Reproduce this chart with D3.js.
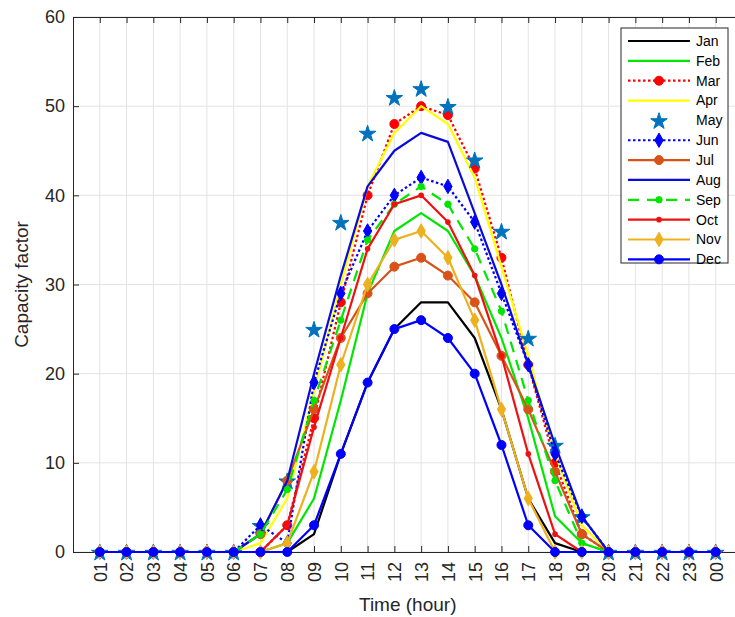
<!DOCTYPE html>
<html>
<head>
<meta charset="utf-8">
<script src="https://cdn.jsdelivr.net/npm/d3@7"></script>
<style>
  html, body { margin: 0; padding: 0; background: #fff; }
  svg { display: block; font-family: "Liberation Sans", Arial, sans-serif; }
</style>
</head>
<body>
<svg id="chart" width="735" height="617"></svg>
<script>
// Hour labels along the x axis
const hours = ["01","02","03","04","05","06","07","08","09","10","11","12",
               "13","14","15","16","17","18","19","20","21","22","23","00"];

const months = ["Jan","Feb","Mar","Apr","May","Jun","Jul","Aug","Sep","Oct","Nov","Dec"];

const yTicks = [0, 10, 20, 30, 40, 50, 60];

// Hourly capacity factor for each month (01 .. 00)
const jan = [0,0,0,0,0,0,0,0,2,11,19,25,28,28,24,16,6,1,0,0,0,0,0,0];
const feb = [0,0,0,0,0,0,0,1,6,17,29,36,38,36,31,24,15,4,1,0,0,0,0,0];
const mar = [0,0,0,0,0,0,0,3,15,28,40,48,50,49,43,33,21,10,2,0,0,0,0,0];
const apr = [0,0,0,0,0,0,1,6,18,30,41,47,50,48,42,32,22,11,3,0,0,0,0,0];
const may = [0,0,0,0,0,0,3,8,25,37,47,51,52,50,44,36,24,12,4,0,0,0,0,0];
const jun = [0,0,0,0,0,0,3,1,19,29,36,40,42,41,37,29,21,11,4,0,0,0,0,0];
const jul = [0,0,0,0,0,0,2,8,16,24,29,32,33,31,28,22,16,9,2,0,0,0,0,0];
const aug = [0,0,0,0,0,0,2,8,20,31,41,45,47,46,38,30,21,12,4,0,0,0,0,0];
const sep = [0,0,0,0,0,0,2,7,17,26,35,39,41,39,34,27,17,8,1,0,0,0,0,0];
const oct = [0,0,0,0,0,0,0,3,14,24,34,39,40,37,31,22,11,2,0,0,0,0,0,0];
const nov = [0,0,0,0,0,0,0,1,9,21,30,35,36,33,26,16,6,0,0,0,0,0,0,0];
const dec = [0,0,0,0,0,0,0,0,3,11,19,25,26,24,20,12,3,0,0,0,0,0,0,0];

// Line / marker styling per month
const styles = [
  { name: "Jan", values: jan, color: "#000000", line: true,  dash: null,      marker: null,      ms: 0 },
  { name: "Feb", values: feb, color: "#00e600", line: true,  dash: null,      marker: null,      ms: 0 },
  { name: "Mar", values: mar, color: "#ff0000", line: true,  dash: "2.5,2.5", marker: "circle",  ms: 4.5 },
  { name: "Apr", values: apr, color: "#ffff00", line: true,  dash: null,      marker: null,      ms: 0 },
  { name: "May", values: may, color: "#0072bd", line: false, dash: null,      marker: "star",    ms: 85 },
  { name: "Jun", values: jun, color: "#0000ff", line: true,  dash: "2.5,2.5", marker: "diamond", ms: 60 },
  { name: "Jul", values: jul, color: "#d95319", line: true,  dash: null,      marker: "circle",  ms: 4.5 },
  { name: "Aug", values: aug, color: "#0a0adc", line: true,  dash: null,      marker: null,      ms: 0 },
  { name: "Sep", values: sep, color: "#00e600", line: true,  dash: "11,8",    marker: "circle",  ms: 3.2 },
  { name: "Oct", values: oct, color: "#ee1111", line: true,  dash: null,      marker: "dot",     ms: 2.8 },
  { name: "Nov", values: nov, color: "#edb120", line: true,  dash: null,      marker: "diamond", ms: 60 },
  { name: "Dec", values: dec, color: "#0000ff", line: true,  dash: null,      marker: "circle",  ms: 4.5 }
];

const svg = d3.select("#chart");
const margin = { left: 73, top: 17, bottom: 552 };
const step = 26.78;

const x = d3.scaleLinear().domain([0, 25]).range([margin.left, margin.left + 25 * step]);
const y = d3.scaleLinear().domain([0, 60]).range([margin.bottom, margin.top]);
const xRight = x(25);

// Grid
const grid = svg.append("g");
grid.selectAll("line.vg").data(hours).join("line")
  .attr("x1", (d, i) => x(i + 1)).attr("x2", (d, i) => x(i + 1))
  .attr("y1", y(0)).attr("y2", y(60))
  .attr("stroke", "#e3e3e3").attr("stroke-width", 1);
grid.selectAll("line.hg").data(yTicks).join("line")
  .attr("x1", margin.left).attr("x2", xRight)
  .attr("y1", d => y(d)).attr("y2", d => y(d))
  .attr("stroke", "#e3e3e3").attr("stroke-width", 1);

// Axes (ticks pointing inward, box on)
const axisColor = "#262626";
const xAxis = svg.append("g").attr("transform", `translate(0,${y(0)})`)
  .call(d3.axisBottom(x).tickValues(d3.range(1, 25)).tickFormat(i => hours[i - 1])
        .tickSizeInner(-6).tickSizeOuter(0).tickPadding(10));
xAxis.select(".domain").attr("stroke", axisColor);
xAxis.selectAll(".tick line").attr("stroke", axisColor);
xAxis.selectAll(".tick text")
  .attr("transform", "rotate(-90)")
  .attr("x", -10).attr("y", 0).attr("dy", "0.35em")
  .attr("text-anchor", "end")
  .attr("font-size", 18).attr("fill", axisColor)
  .attr("font-family", "Liberation Sans, Arial, sans-serif");

const xTop = svg.append("g").attr("transform", `translate(0,${y(60)})`)
  .call(d3.axisTop(x).tickValues(d3.range(1, 25)).tickFormat("").tickSizeInner(-6).tickSizeOuter(0));
xTop.select(".domain").attr("stroke", axisColor);
xTop.selectAll(".tick line").attr("stroke", axisColor);

const yAxis = svg.append("g").attr("transform", `translate(${margin.left},0)`)
  .call(d3.axisLeft(y).tickValues(yTicks).tickSizeInner(-6).tickSizeOuter(0).tickPadding(8));
yAxis.select(".domain").attr("stroke", axisColor);
yAxis.selectAll(".tick line").attr("stroke", axisColor);
yAxis.selectAll(".tick text").attr("font-size", 18).attr("fill", axisColor)
  .attr("font-family", "Liberation Sans, Arial, sans-serif");

// Axis titles
svg.append("text").attr("x", x(12.5)).attr("y", 611)
  .attr("text-anchor", "middle").attr("font-size", 19).attr("fill", axisColor)
  .text("Time (hour)");
svg.append("text")
  .attr("transform", `translate(28,${(y(0) + y(60)) / 2}) rotate(-90)`)
  .attr("text-anchor", "middle").attr("font-size", 19).attr("fill", axisColor)
  .text("Capacity factor");

// Marker drawing helper
function drawMarker(g, type, color, size, cx, cy) {
  if (type === "circle") {
    g.append("circle").attr("cx", cx).attr("cy", cy).attr("r", size).attr("fill", color).attr("stroke", color);
  } else if (type === "dot") {
    g.append("circle").attr("cx", cx).attr("cy", cy).attr("r", size).attr("fill", color);
  } else if (type === "diamond") {
    g.append("path").attr("d", d3.symbol(d3.symbolDiamond, size)())
      .attr("transform", `translate(${cx},${cy})`).attr("fill", color).attr("stroke", color);
  } else if (type === "star") {
    g.append("path").attr("d", d3.symbol(d3.symbolStar, size)())
      .attr("transform", `translate(${cx},${cy + 1})`).attr("fill", color).attr("stroke", color);
  }
}

// Series
const plot = svg.append("g");
const lineGen = d3.line().x((d, i) => x(i + 1)).y(d => y(d));
styles.forEach(s => {
  const g = plot.append("g");
  if (s.line) {
    g.append("path").datum(s.values).attr("d", lineGen)
      .attr("fill", "none").attr("stroke", s.color).attr("stroke-width", 2.2)
      .attr("stroke-dasharray", s.dash).attr("stroke-linejoin", "round");
  }
  if (s.marker) {
    s.values.forEach((v, i) => drawMarker(g, s.marker, s.color, s.ms, x(i + 1), y(v)));
  }
});

// Legend
const lg = svg.append("g");
const lx = 621, ly = 28, lw = 107, lh = 235;
lg.append("rect").attr("x", lx).attr("y", ly).attr("width", lw).attr("height", lh)
  .attr("fill", "#fff").attr("stroke", axisColor).attr("stroke-width", 1);
styles.forEach((s, i) => {
  const yy = 41 + i * 19.85;
  const x1 = 628, x2 = 690;
  if (s.line) {
    lg.append("line").attr("x1", x1).attr("x2", x2).attr("y1", yy).attr("y2", yy)
      .attr("stroke", s.color).attr("stroke-width", 2.2).attr("stroke-dasharray", s.dash);
  }
  if (s.marker) drawMarker(lg, s.marker, s.color, s.ms, (x1 + x2) / 2, yy);
  lg.append("text").attr("x", 696).attr("y", yy).attr("dy", "0.35em")
    .attr("font-size", 14).attr("fill", "#000").text(s.name);
});
</script>
</body>
</html>
